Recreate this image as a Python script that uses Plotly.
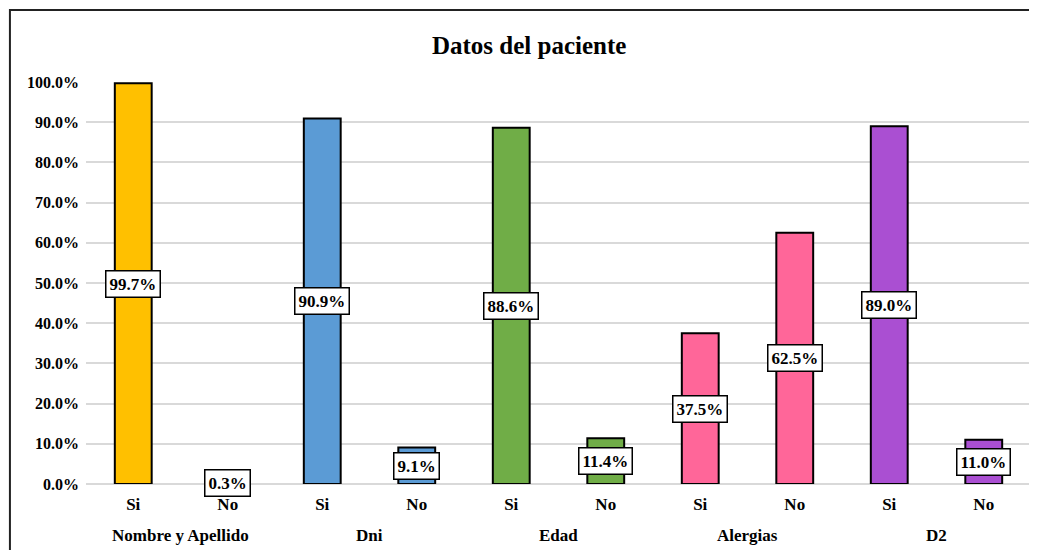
import plotly.graph_objects as go

groups = ["Nombre y Apellido", "Dni", "Edad", "Alergias", "D2"]
answers = ["Si", "No"]
si_values = [0.997, 0.909, 0.886, 0.375, 0.890]
no_values = [0.003, 0.091, 0.114, 0.625, 0.110]
group_colors = ["#FFC000", "#5B9BD5", "#70AD47", "#FF6699", "#AA4FD2"]

FONT = "Liberation Serif"

xs, ys, cols, ticktext = [], [], [], []
for gi, g in enumerate(groups):
    for ai, a in enumerate(answers):
        xs.append(gi * 2 + ai)
        ys.append(si_values[gi] if a == "Si" else no_values[gi])
        cols.append(group_colors[gi])
        ticktext.append(a)

fig = go.Figure()
fig.add_trace(go.Bar(
    x=xs, y=ys, marker=dict(color=cols, line=dict(color="black", width=2)),
    width=0.39, hoverinfo="skip"
))

annotations = []
for x, y in zip(xs, ys):
    annotations.append(dict(
        x=x, y=y / 2, xref="x", yref="y", text=f"{y*100:.1f}%", showarrow=False,
        font=dict(family=FONT, size=17, color="black", weight="bold"),
        bgcolor="white", bordercolor="black", borderwidth=1.5, borderpad=3
    ))
for gi, g in enumerate(groups):
    annotations.append(dict(
        x=gi * 2 + 0.5, y=-0.127, xref="x", yref="paper", text=g, showarrow=False,
        font=dict(family=FONT, size=17, color="black", weight="bold"),
        yanchor="middle"
    ))

# page body adds an 8px offset; compensate in size and margins
fig.update_layout(
    width=1029, height=542,
    margin=dict(l=78, r=6, t=74, b=66),
    paper_bgcolor="white", plot_bgcolor="white",
    showlegend=False,
    title=dict(text="<b>Datos del paciente</b>", x=0.469, xanchor="center", xref="paper",
               y=1 - 37 / 542, yanchor="middle",
               font=dict(family=FONT, size=25, color="black")),
    annotations=annotations,
    shapes=[
        dict(type="rect", xref="paper", yref="paper", x0=-0.0805, x1=1.3, y0=-0.4, y1=1.179,
             line=dict(color="#222222", width=2), fillcolor="rgba(0,0,0,0)", layer="above"),
    ],
    xaxis=dict(
        tickmode="array", tickvals=xs, ticktext=ticktext, range=[-0.5, 9.5],
        showgrid=False, zeroline=False, showline=False, ticks="",
        ticklabelstandoff=8,
        tickfont=dict(family=FONT, size=17, color="black", weight="bold"),
    ),
    yaxis=dict(
        range=[0, 1.0], dtick=0.1, tickformat=".1%",
        showgrid=True, gridcolor="#D9D9D9", gridwidth=1.5,
        zeroline=True, zerolinecolor="#D9D9D9", zerolinewidth=1.5,
        showline=False, ticks="", ticklabelstandoff=6,
        tickfont=dict(family=FONT, size=16, color="black", weight="bold"),
    ),
)

fig.write_html("out.html")
